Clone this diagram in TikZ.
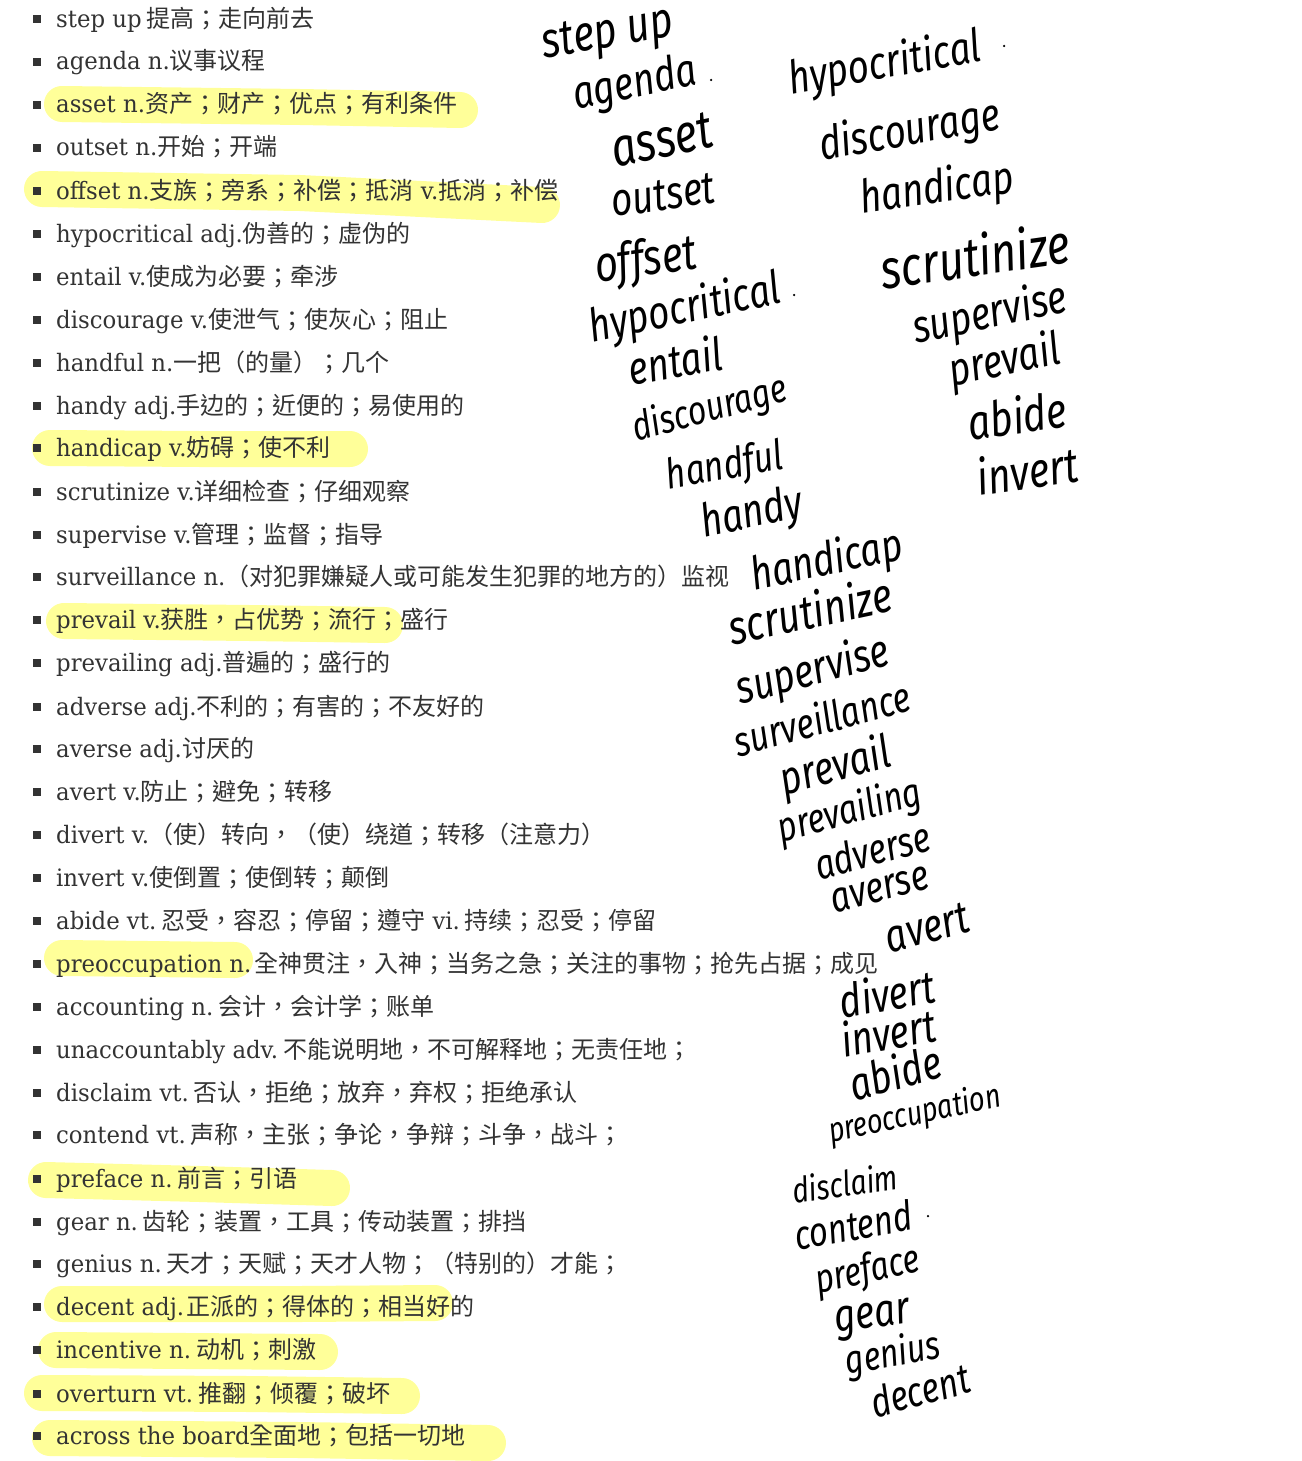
\documentclass[tikz,border=0pt]{standalone}
\usepackage{fontspec}
\setmainfont{DejaVu Serif}[FakeStretch=0.95]
\newfontfamily\zhfont{Noto Sans CJK TC}
\newfontfamily\handfont{Fira Sans}[FakeStretch=0.8]
\newcommand{\zh}[1]{{\zhfont #1}}
\newcommand{\zhs}[2][5pt]{\hspace{#1}{\zhfont #2}}
\definecolor{entryink}{HTML}{333333}
\definecolor{markerYellow}{HTML}{FFFF99}
\tikzset{
  entry/.style={anchor=west,inner sep=0pt,text=entryink,text height=18pt,text depth=6pt,font=\fontsize{24}{24}\selectfont},
  bullet/.style={fill=entryink,inner sep=0pt,minimum size=8pt},
  marker/.style={draw=markerYellow,line width=36pt,line cap=round,line join=round},
  hand/.style={text=black,inner sep=0pt,font=\handfont\itshape\fontsize{#1}{#1}\selectfont},
  hand/.default=46,
  handdot/.style={circle,fill=black,inner sep=0pt,minimum size=2.5pt}
}
\begin{document}
\begin{tikzpicture}[x=1pt,y=-1pt]
\useasboundingbox (0,0) rectangle (1301,1461);
\fill[white] (0,0) rectangle (1301,1461);
% yellow marker strokes
\draw[marker] (62,104) -- (300,107) -- (460,110);
\draw[marker] (42,189) -- (300,193) -- (542,205);
\draw[marker] (50,448) -- (200,449) -- (350,449);
\draw[marker] (64,621) -- (250,623) -- (385,625);
\draw[marker] (62,958) -- (235,960);
\draw[marker] (46,1180) -- (200,1184) -- (332,1188);
\draw[marker] (62,1304) -- (300,1304) -- (435,1303);
\draw[marker] (56,1350) -- (320,1352);
\draw[marker] (42,1393) -- (250,1394) -- (402,1396);
\draw[marker] (50,1438) -- (300,1440) -- (488,1443);
% bullets
\foreach \i/\y in {1/19,2/62,3/105,4/148,5/191,6/234,7/277,8/320,9/363,10/406,11/448,12/492,13/535,14/577,15/620,16/663,17/707,18/749,19/792,20/835,21/878,22/921,23/964,24/1007,25/1050,26/1093,27/1135,28/1179,29/1222,30/1264,31/1307,32/1350,33/1394,34/1436}
  \node[bullet] (b\i) at (37,\y) {};
% word list
\node[entry] (w1) at (56,22) {step up\zhs{提高；走向前去}};
\node[entry] (w2) at (56,64) {agenda n.\zh{议事议程}};
\node[entry] (w3) at (56,107) {asset n.\zh{资产；财产；优点；有利条件}};
\node[entry] (w4) at (56,150) {outset n.\zh{开始；开端}};
\node[entry] (w5) at (56,193) {offset n.\zh{支族；旁系；补偿；抵消} v.\zh{抵消；补偿}};
\node[entry] (w6) at (56,236) {hypocritical adj.\zh{伪善的；虚伪的}};
\node[entry] (w7) at (56,279) {entail v.\zh{使成为必要；牵涉}};
\node[entry] (w8) at (56,322) {discourage v.\zh{使泄气；使灰心；阻止}};
\node[entry] (w9) at (56,365) {handful n.\zh{一把（的量）；几个}};
\node[entry] (w10) at (56,408) {handy adj.\zh{手边的；近便的；易使用的}};
\node[entry] (w11) at (56,450) {handicap v.\zh{妨碍；使不利}};
\node[entry] (w12) at (56,494) {scrutinize v.\zh{详细检查；仔细观察}};
\node[entry] (w13) at (56,537) {supervise v.\zh{管理；监督；指导}};
\node[entry] (w14) at (56,579) {surveillance n.\zh{（对犯罪嫌疑人或可能发生犯罪的地方的）监视}};
\node[entry] (w15) at (56,622) {prevail v.\zh{获胜，占优势；流行；盛行}};
\node[entry] (w16) at (56,665) {prevailing adj.\zh{普遍的；盛行的}};
\node[entry] (w17) at (56,709) {adverse adj.\zh{不利的；有害的；不友好的}};
\node[entry] (w18) at (56,751) {averse adj.\zh{讨厌的}};
\node[entry] (w19) at (56,794) {avert v.\zh{防止；避免；转移}};
\node[entry] (w20) at (56,837) {divert v.\zh{（使）转向，（使）绕道；转移（注意力）}};
\node[entry] (w21) at (56,880) {invert v.\zh{使倒置；使倒转；颠倒}};
\node[entry] (w22) at (56,923) {abide vt.\zhs{忍受，容忍；停留；遵守} vi.\zhs{持续；忍受；停留}};
\node[entry] (w23) at (56,966) {preoccupation n.\zhs[3pt]{全神贯注，入神；当务之急；关注的事物；抢先占据；成见}};
\node[entry] (w24) at (56,1009) {accounting n.\zhs{会计，会计学；账单}};
\node[entry] (w25) at (56,1052) {unaccountably adv.\zhs{不能说明地，不可解释地；无责任地；}};
\node[entry] (w26) at (56,1095) {disclaim vt.\zhs{否认，拒绝；放弃，弃权；拒绝承认}};
\node[entry] (w27) at (56,1137) {contend vt.\zhs{声称，主张；争论，争辩；斗争，战斗；}};
\node[entry] (w28) at (56,1181) {preface n.\zhs{前言；引语}};
\node[entry] (w29) at (56,1224) {gear n.\zhs{齿轮；装置，工具；传动装置；排挡}};
\node[entry] (w30) at (56,1266) {genius n.\zhs{天才；天赋；天才人物；（特别的）才能；}};
\node[entry] (w31) at (56,1309) {decent adj.\zhs[2pt]{正派的；得体的；相当好的}};
\node[entry] (w32) at (56,1352) {incentive n.\zhs{动机；刺激}};
\node[entry] (w33) at (56,1396) {overturn vt.\zhs{推翻；倾覆；破坏}};
\node[entry] (w34) at (56,1438) {across the board\zhs[0pt]{全面地；包括一切地}};
% handwriting, first column
\node[hand=50,rotate=10] (h1) at (608,36) {step up};
\node[hand,rotate=12] (h2) at (635,85) {agenda};
\node[hand=54,rotate=12] (h3) at (662,140) {asset};
\node[hand,rotate=8] (h4) at (663,195) {outset};
\node[hand=50,rotate=8] (h5) at (646,262) {offset};
\node[hand,rotate=12] (h6) at (685,310) {hypocritical};
\node[hand,rotate=10] (h7) at (675,360) {entail};
\node[hand=40,rotate=15] (h8) at (710,410) {discourage};
\node[hand=42,rotate=10] (h9) at (725,468) {handful};
\node[hand,rotate=12] (h10) at (752,515) {handy};
\node[hand,rotate=12] (h11) at (827,562) {handicap};
\node[hand=48,rotate=12] (h12) at (810,610) {scrutinize};
\node[hand,rotate=15] (h13) at (813,672) {supervise};
\node[hand=42,rotate=15] (h14) at (822,718) {surveillance};
\node[hand,rotate=15] (h15) at (836,768) {prevail};
\node[hand=41,rotate=15] (h16) at (850,812) {prevailing};
\node[hand=42,rotate=15] (h17) at (872,850) {adverse};
\node[hand=43,rotate=15] (h18) at (880,890) {averse};
\node[hand,rotate=15] (h19) at (927,928) {avert};
\node[hand,rotate=10] (h20) at (887,993) {divert};
\node[hand,rotate=10] (h21) at (888,1032) {invert};
\node[hand,rotate=15] (h22) at (895,1072) {abide};
\node[hand=34,rotate=12] (h23) at (915,1115) {preoccupation};
\node[hand=35,rotate=8] (h24) at (845,1183) {disclaim};
\node[hand=41,rotate=10] (h25) at (853,1225) {contend};
\node[hand=40,rotate=12] (h26) at (868,1272) {preface};
\node[hand,rotate=8] (h27) at (873,1320) {gear};
\node[hand=40,rotate=10] (h28) at (893,1355) {genius};
\node[hand=42,rotate=15] (h29) at (920,1390) {decent};
% handwriting, second column
\node[hand,rotate=10] (r1) at (885,65) {hypocritical};
\node[hand,rotate=10] (r2) at (910,132) {discourage};
\node[hand,rotate=8] (r3) at (937,190) {handicap};
\node[hand=55,rotate=8] (r4) at (975,255) {scrutinize};
\node[hand,rotate=12] (r5) at (990,315) {supervise};
\node[hand,rotate=12] (r6) at (1005,362) {prevail};
\node[hand=49,rotate=8] (r7) at (1017,415) {abide};
\node[hand=49,rotate=8] (r8) at (1027,470) {invert};
% stray dots
\node[handdot] (d1) at (711,80) {};
\node[handdot] (d2) at (1004,46) {};
\node[handdot] (d3) at (794,295) {};
\node[handdot] (d4) at (928,1216) {};
\end{tikzpicture}
\end{document}
